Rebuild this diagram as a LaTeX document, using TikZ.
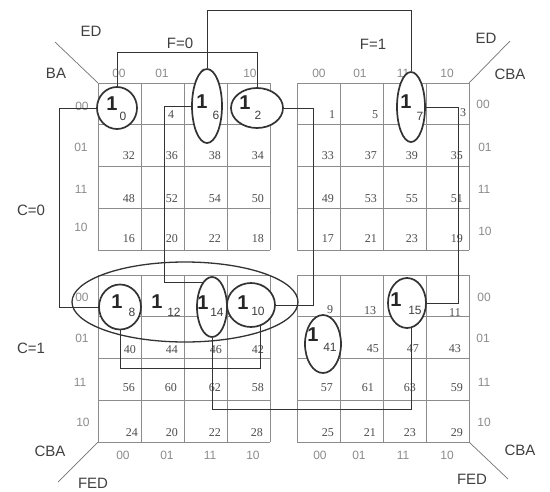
\documentclass[tikz,border=0pt]{standalone}
\usepackage{fontspec}
\setmainfont{Liberation Sans}
\newfontfamily\numfont{Liberation Serif}
\usetikzlibrary{shapes.geometric}
\begin{document}
\begin{tikzpicture}[x=1pt,y=-1pt,
  gridline/.style={draw=black!45, line width=0.9pt},
  conn/.style={draw=black!80, line width=0.9pt},
  loop/.style={draw=black!80, line width=1.7pt, ellipse, inner sep=0pt, fill=white},
  bigloop/.style={draw=black!80, line width=1.3pt, ellipse, inner sep=0pt},
  hdr/.style={text=black!45, font=\fontsize{12}{12}\selectfont, inner sep=0pt},
  lbl/.style={text=black!75, font=\fontsize{15}{15}\selectfont, inner sep=0pt},
  num/.style={text=black!70, font=\numfont\fontsize{12}{12}\selectfont, inner sep=0pt, anchor=east},
  snum/.style={text=black!70, font=\numfont\fontsize{12}{12}\selectfont, inner sep=0pt},
  one/.style={text=black!85, font=\bfseries\fontsize{20}{20}\selectfont, inner sep=0pt},
  sub/.style={text=black!75, font=\fontsize{12}{12}\selectfont, inner sep=0pt},
  diag/.style={draw=black!55, line width=0.7pt}]

\fill[white] (0,0) rectangle (550,491);
\useasboundingbox (0,0) rectangle (550,491);

% ---- grids ----
\foreach \xs/\ys in {98/83, 297/83, 98/275, 297/275} {
  \foreach \i in {0,...,4} {
    \draw[gridline] (\xs+43*\i,\ys) -- ++(0,167);
    \draw[gridline] (\xs,\ys+41.75*\i) -- ++(172,0);
  }
}

% ---- diagonal corner lines ----
\coordinate (dtl1) at (55,42);  \coordinate (dtl2) at (98,83);
\coordinate (dtr1) at (510,41); \coordinate (dtr2) at (469,83);
\coordinate (dbl1) at (58,482); \coordinate (dbl2) at (98,442);
\coordinate (dbr1) at (508,479); \coordinate (dbr2) at (469,442);
\draw[diag] (dtl1) -- (dtl2);
\draw[diag] (dtr1) -- (dtr2);
\draw[diag] (dbl1) -- (dbl2);
\draw[diag] (dbr1) -- (dbr2);

% ---- labels ----
\node[lbl] (ed1) at (91,31) {ED};
\node[lbl] (ba1) at (56,73) {BA};
\node[lbl] (f0) at (180,43) {F=0};
\node[lbl] (f1) at (373,44) {F=1};
\node[lbl] (ed2) at (486,38) {ED};
\node[lbl] (cba1) at (510,74) {CBA};
\node[lbl] (c0l) at (31,210) {C=0};
\node[lbl] (c1l) at (31,348) {C=1};
\node[lbl] (cba2) at (50,451) {CBA};
\node[lbl] (fed1) at (93,483) {FED};
\node[lbl] (cba3) at (520,450) {CBA};
\node[lbl] (fed2) at (472,479) {FED};

% column headers
\node[hdr] (ht1) at (119,73) {00};
\node[hdr] (ht2) at (162,73) {01};
\node[hdr] (ht3) at (206,73) {11};
\node[hdr] (ht4) at (250,73) {10};
\node[hdr] (ht5) at (319,73) {00};
\node[hdr] (ht6) at (360,73) {01};
\node[hdr] (ht7) at (403,73) {11};
\node[hdr] (ht8) at (447,73) {10};
\node[hdr] (hb1) at (123,455) {00};
\node[hdr] (hb2) at (167,455) {01};
\node[hdr] (hb3) at (210,455) {11};
\node[hdr] (hb4) at (253,455) {10};
\node[hdr] (hb5) at (320,455) {00};
\node[hdr] (hb6) at (359,455) {01};
\node[hdr] (hb7) at (403,455) {11};
\node[hdr] (hb8) at (447,455) {10};
% row headers
\node[hdr] (rl1) at (82,106) {00};
\node[hdr] (rl2) at (81,147) {01};
\node[hdr] (rl3) at (81,189) {11};
\node[hdr] (rl4) at (81,227) {10};
\node[hdr] (rl5) at (82,297) {00};
\node[hdr] (rl6) at (82,338) {01};
\node[hdr] (rl7) at (80,382) {11};
\node[hdr] (rl8) at (83,422) {10};
\node[hdr] (rr1) at (483,104) {00};
\node[hdr] (rr2) at (485,147) {01};
\node[hdr] (rr3) at (484,189) {11};
\node[hdr] (rr4) at (485,231) {10};
\node[hdr] (rr5) at (484,297) {00};
\node[hdr] (rr6) at (483,338) {01};
\node[hdr] (rr7) at (484,382) {11};
\node[hdr] (rr8) at (484,422) {10};

% ---- big group ellipse ----
\node[bigloop, minimum width=226pt, minimum height=80pt] (big) at (185,302) {};

% ---- small loops ----
\node[loop, minimum width=40pt, minimum height=42pt] (c0) at (117,108) {};
\node[loop, minimum width=30pt, minimum height=74pt] (c6) at (207,106) {};
\node[loop, minimum width=52pt, minimum height=40pt] (c2) at (257,108) {};
\node[loop, minimum width=28pt, minimum height=70pt] (c7) at (411,107) {};
\node[loop, minimum width=42pt, minimum height=45pt] (c8) at (120,307) {};
\node[loop, minimum width=30pt, minimum height=60pt] (c14) at (212,307) {};
\node[loop, minimum width=48pt, minimum height=44pt] (c10) at (251,305) {};
\node[loop, minimum width=38pt, minimum height=50pt] (c15) at (407,303) {};
\node[loop, minimum width=36pt, minimum height=58pt] (c41) at (323,344) {};

% ---- ones with subscripts ----
\node[one] (o0) at (112,104) {1};   \node[sub] (s0) at (123,116) {0};
\node[one] (o6) at (202,102) {1};   \node[sub] (s6) at (216,115) {6};
\node[one] (o2) at (245,103) {1};   \node[sub] (s2) at (258,115) {2};
\node[one] (o7) at (406,102) {1};   \node[sub] (s7) at (420,116) {7};
\node[one] (o8) at (117,302) {1};   \node[sub] (s8) at (132,312) {8};
\node[one] (o12) at (157,302) {1};  \node[sub] (s12) at (174,312) {12};
\node[one] (o14) at (203,303) {1};  \node[sub] (s14) at (217,312) {14};
\node[one] (o10) at (243,303) {1};  \node[sub] (s10) at (258,311) {10};
\node[one] (o15) at (396,300) {1};  \node[sub] (s15) at (415,310) {15};
\node[one] (o41) at (313,335) {1};  \node[sub] (s41) at (330,347) {41};

% ---- cell numbers ----
% top-left
\node[snum] (a4) at (171,115) {4};
\node[num] (a32) at (135,156) {32}; \node[num] (a36) at (178,156) {36}; \node[num] (a38) at (221,156) {38}; \node[num] (a34) at (264,156) {34};
\node[num] (a48) at (135,199) {48}; \node[num] (a52) at (178,199) {52}; \node[num] (a54) at (221,199) {54}; \node[num] (a50) at (264,199) {50};
\node[num] (a16) at (135,239) {16}; \node[num] (a20) at (178,239) {20}; \node[num] (a22) at (221,239) {22}; \node[num] (a18) at (264,239) {18};
% top-right
\node[snum] (b1) at (332,115) {1};
\node[snum] (b5) at (375,115) {5};
\node[snum] (b3) at (463,113) {3};
\node[num] (b33) at (334,156) {33}; \node[num] (b37) at (377,156) {37}; \node[num] (b39) at (418,156) {39}; \node[num] (b35) at (463,156) {35};
\node[num] (b49) at (334,199) {49}; \node[num] (b53) at (377,199) {53}; \node[num] (b55) at (418,199) {55}; \node[num] (b51) at (463,199) {51};
\node[num] (b17) at (334,239) {17}; \node[num] (b21) at (377,239) {21}; \node[num] (b23) at (418,239) {23}; \node[num] (b19) at (463,239) {19};
% bottom-left
\node[num] (c40) at (136,350) {40}; \node[num] (c44) at (178,350) {44}; \node[num] (c46) at (222,350) {46}; \node[num] (c42) at (264,350) {42};
\node[num] (c56) at (135,388) {56}; \node[num] (c60) at (177,388) {60}; \node[num] (c62) at (221,388) {62}; \node[num] (c58) at (264,388) {58};
\node[num] (c24) at (138,433) {24}; \node[num] (c20) at (178,433) {20}; \node[num] (c22) at (221,433) {22}; \node[num] (c28) at (263,433) {28};
% bottom-right
\node[snum] (d9) at (330,310) {9};
\node[snum] (d13) at (370,311) {13};
\node[snum] (d11) at (455,313) {11};
\node[num] (d45) at (379,349) {45}; \node[num] (d47) at (419,349) {47}; \node[num] (d43) at (461,349) {43};
\node[num] (d57) at (333,388) {57}; \node[num] (d61) at (374,388) {61}; \node[num] (d63) at (416,388) {63}; \node[num] (d59) at (463,388) {59};
\node[num] (d25) at (334,433) {25}; \node[num] (d21) at (376,433) {21}; \node[num] (d23) at (416,433) {23}; \node[num] (d29) at (463,433) {29};

% ---- connectors ----
\draw[conn] (c0.north) -- ++(0,-34) -| (c2.north);
\draw[conn] (c6.north) -- ++(0,-58) -| (c7.north);
\draw[conn] (c0.west) -- ++(-37,0) |- (c8.west);
\draw[conn] (c6.west) -- ++(-27,0) |- (c14.111);
\draw[conn] (c2.east) -- ++(30,0) |- (c10.east);
\draw[conn] (c7.east) -- ++(33,0) |- (c15.east);
\draw[conn] (c8.south) -- ++(0,38) -| (c10.-65);
\draw[conn] (c14.south) -- ++(0,72) -| (c15.-80);

\end{tikzpicture}
\end{document}
